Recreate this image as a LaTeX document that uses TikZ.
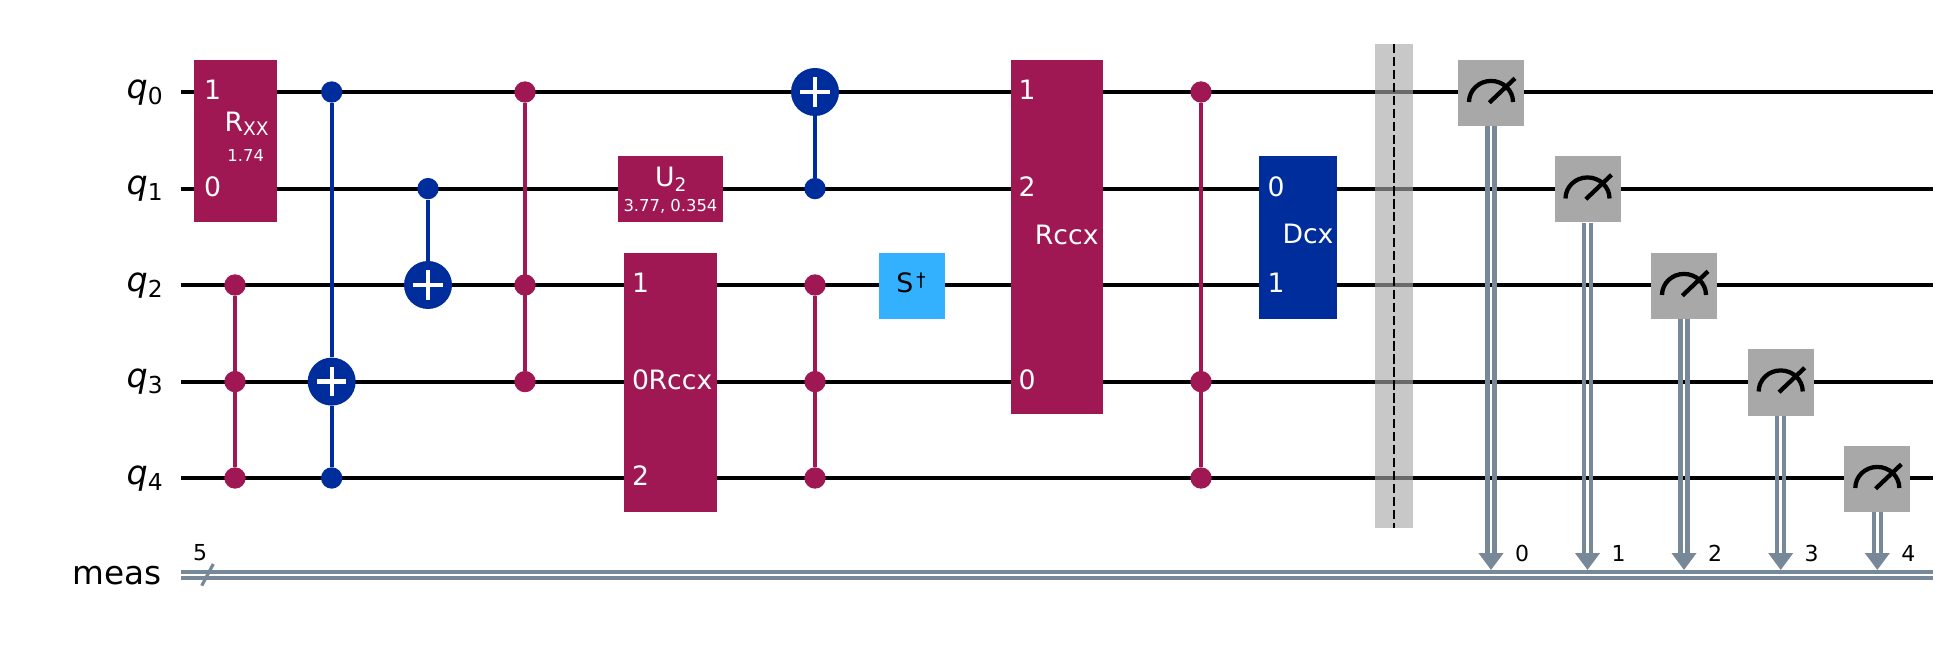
\documentclass[tikz,border=0pt]{standalone}
\usepackage{fontspec}
\setmainfont{DejaVu Sans}
\usetikzlibrary{arrows.meta, calc}
\definecolor{qmag}{HTML}{9F1853}
\definecolor{qblue}{HTML}{002D9C}
\definecolor{qsky}{HTML}{33B1FF}
\definecolor{qgray}{HTML}{A8A8A8}
\definecolor{qclassic}{HTML}{778899}
\newcommand{\qlab}[1]{{\fontsize{25}{25}\selectfont\itshape q}\raisebox{-4.3pt}{\fontsize{17.5}{17.5}\selectfont #1}}
\newcommand{\gatesub}[2]{#1\raisebox{-3.2pt}{\fontsize{14}{14}\selectfont #2}}
\tikzset{
    wire/.style={line width=3pt, black},
    cwire/.style={line width=3.1pt, qclassic},
    ctip/.style={line width=3.1pt, qclassic, -{Triangle[length=12.75pt, width=18pt]}},
    gatebox/.style={rectangle, inner sep=0, fill=#1},
    gatetxt/.style={inner sep=0, text=white, font=\fontsize{20}{20}\selectfont},
    paramtxt/.style={inner sep=0, text=white, font=\fontsize{12.3}{12.3}\selectfont},
    smalltxt/.style={inner sep=0, font=\fontsize{16.5}{16.5}\selectfont},
    ctrl/.style={circle, inner sep=0, minimum size=16pt, fill=#1},
    cline/.style={line width=3.2pt, #1},
    target/.style={circle, inner sep=0, minimum size=36pt, fill=qblue, path picture={
        \draw[white, line width=3.2pt] ([xshift=-11pt]path picture bounding box.center) -- ([xshift=11pt]path picture bounding box.center);
        \draw[white, line width=3.2pt] ([yshift=-11pt]path picture bounding box.center) -- ([yshift=11pt]path picture bounding box.center);
    }},
    meter/.style={line width=3.2pt, black},
}
\begin{document}
\begin{tikzpicture}[x=0.75pt, y=-0.75pt]
    \useasboundingbox (0, 0) rectangle (1955, 648);

    % Wires
    \foreach \i/\y in {0/92, 1/188.6, 2/285, 3/381.6, 4/478} {
        \coordinate (wl\i) at (181, \y);
        \coordinate (wr\i) at (1933, \y);
        \draw[wire] (wl\i) -- (wr\i);
        \node[anchor=base east, inner sep=0] (qn\i) at (163, \y+6.3) {\qlab{\i}};
    }

    % Classical register
    \coordinate (cl0) at (181, 572);
    \coordinate (cr0) at (1933, 572);
    \coordinate (cl1) at (181, 577.8);
    \coordinate (cr1) at (1933, 577.8);
    \draw[cwire] (cl0) -- (cr0);
    \draw[cwire] (cl1) -- (cr1);
    \node[anchor=base east, inner sep=0, font=\fontsize{24.5}{24.5}\selectfont] (measname) at (162, 584.5) {meas};
    \coordinate (sa) at (201.7, 585.7);
    \coordinate (sb) at (213.3, 564);
    \draw[line width=2.4pt, qclassic] (sa) -- (sb);
    \node[smalltxt] (regsize) at (200, 553) {5};

    % Rxx
    \node[gatebox=qmag, minimum width=62.25pt, minimum height=121.5pt] (rxx) at (235.5, 140.8) {};
    \node[gatetxt] (rxxa) at (212.5, 90) {1};
    \node[gatetxt] (rxxb) at (212.5, 186.5) {0};
    \node[gatetxt, anchor=base] (rxxname) at (246.7, 131.7) {\gatesub{R}{XX}};
    \node[paramtxt] (rxxval) at (245.7, 156) {1.74};

    % First ccz
    \node[ctrl=qmag] (za) at (235, 285) {};
    \node[ctrl=qmag] (zb) at (235, 381.6) {};
    \node[ctrl=qmag] (zc) at (235, 478) {};
    \draw[cline=qmag] (za) -- (zc);

    % First ccx pair
    \node[ctrl=qblue] (xa) at (331.7, 92) {};
    \node[target] (xb) at (331.7, 381.6) {};
    \node[ctrl=qblue] (xc) at (331.7, 478) {};
    \draw[cline=qblue] (xa) -- (xb);
    \draw[cline=qblue] (xb) -- (xc);
    \node[ctrl=qblue] (ya) at (428, 188.6) {};
    \node[target] (yb) at (428, 285) {};
    \draw[cline=qblue] (ya) -- (yb);

    % Second ccz
    \node[ctrl=qmag] (va) at (525, 92) {};
    \node[ctrl=qmag] (vb) at (525, 285) {};
    \node[ctrl=qmag] (vc) at (525, 381.6) {};
    \draw[cline=qmag] (va) -- (vc);

    % U2
    \node[gatebox=qmag, minimum width=78.75pt, minimum height=49.3pt] (ugate) at (670.5, 188.9) {};
    \node[gatetxt, anchor=base] (uname) at (670.7, 187) {\gatesub{U}{2}};
    \node[paramtxt] (uval) at (670.5, 206.7) {3.77, 0.354};

    % Small Rccx
    \node[gatebox=qmag, minimum width=69.75pt, minimum height=194pt] (rca) at (670.5, 382.2) {};
    \node[gatetxt] (rcaa) at (640.5, 283) {1};
    \node[gatetxt] (rcab) at (640.5, 380) {0};
    \node[gatetxt] (rcac) at (640.5, 476) {2};
    \node[gatetxt] (rcaname) at (680.5, 380) {Rccx};

    % Third cx
    \node[target] (ta) at (815, 92) {};
    \node[ctrl=qblue] (tb) at (815, 188.6) {};
    \draw[cline=qblue] (ta) -- (tb);

    % Third ccz
    \node[ctrl=qmag] (ua) at (815, 285) {};
    \node[ctrl=qmag] (ub) at (815, 381.6) {};
    \node[ctrl=qmag] (uc) at (815, 478) {};
    \draw[cline=qmag] (ua) -- (uc);

    % Sdg
    \node[gatebox=qsky, minimum width=49.5pt, minimum height=49.3pt] (sdg) at (912, 285.8) {};
    \node[inner sep=0, font=\fontsize{20}{20}\selectfont] (sdgname) at (911, 283) {S\raisebox{4.5pt}{\fontsize{14}{14}\selectfont\,†}};

    % Large Rccx
    \node[gatebox=qmag, minimum width=69pt, minimum height=265.5pt] (rcb) at (1057, 237) {};
    \node[gatetxt] (rcba) at (1027, 90) {1};
    \node[gatetxt] (rcbb) at (1027, 186.5) {2};
    \node[gatetxt] (rcbc) at (1027, 380) {0};
    \node[gatetxt] (rcbname) at (1066.7, 235) {Rccx};

    % Last ccz
    \node[ctrl=qmag] (pa) at (1201, 92) {};
    \node[ctrl=qmag] (pb) at (1201, 381.6) {};
    \node[ctrl=qmag] (pc) at (1201, 478) {};
    \draw[cline=qmag] (pa) -- (pc);

    % Dcx
    \node[gatebox=qblue, minimum width=58.5pt, minimum height=122pt] (dcx) at (1298, 237.3) {};
    \node[gatetxt] (dcxa) at (1276, 186.5) {0};
    \node[gatetxt] (dcxb) at (1276, 282.5) {1};
    \node[gatetxt] (dcxname) at (1308, 234) {Dcx};

    % Barrier
    \fill[qgray, opacity=0.63] (1375, 44) rectangle (1413, 527.5);
    \coordinate (ba) at (1394, 44);
    \coordinate (bb) at (1394, 527.5);
    \draw[line width=1.5pt, black, dash pattern=on 7pt off 2.7pt] (ba) -- (bb);

    % Measures
    \foreach \i/\x/\y in {0/1491/93, 1/1587.5/189.5, 2/1684/286, 3/1780.7/382.5, 4/1877.3/479} {
        \node[gatebox=qgray, minimum width=49.5pt, minimum height=49.5pt] (mes\i) at (\x, \y) {};
        \draw[meter] ($(mes\i)+(-22, 9)$) arc (180:0:16.5pt and 15.8pt);
        \draw[meter] ($(mes\i)+(-1.7, 9.7)$) -- ($(mes\i)+(24, -14.7)$);
        \coordinate (cb\i) at (\x, 570);
        \draw[cwire] ([xshift=-2.6pt]mes\i.south) -- ([xshift=-2.6pt, yshift=8pt]cb\i);
        \draw[cwire] ([xshift=2.6pt]mes\i.south) -- ([xshift=2.6pt, yshift=8pt]cb\i);
        \draw[ctip] ([yshift=9pt]cb\i) -- (cb\i);
        \node[smalltxt] (cn\i) at (\x+31, 553) {\i};
    }
\end{tikzpicture}
\end{document}
